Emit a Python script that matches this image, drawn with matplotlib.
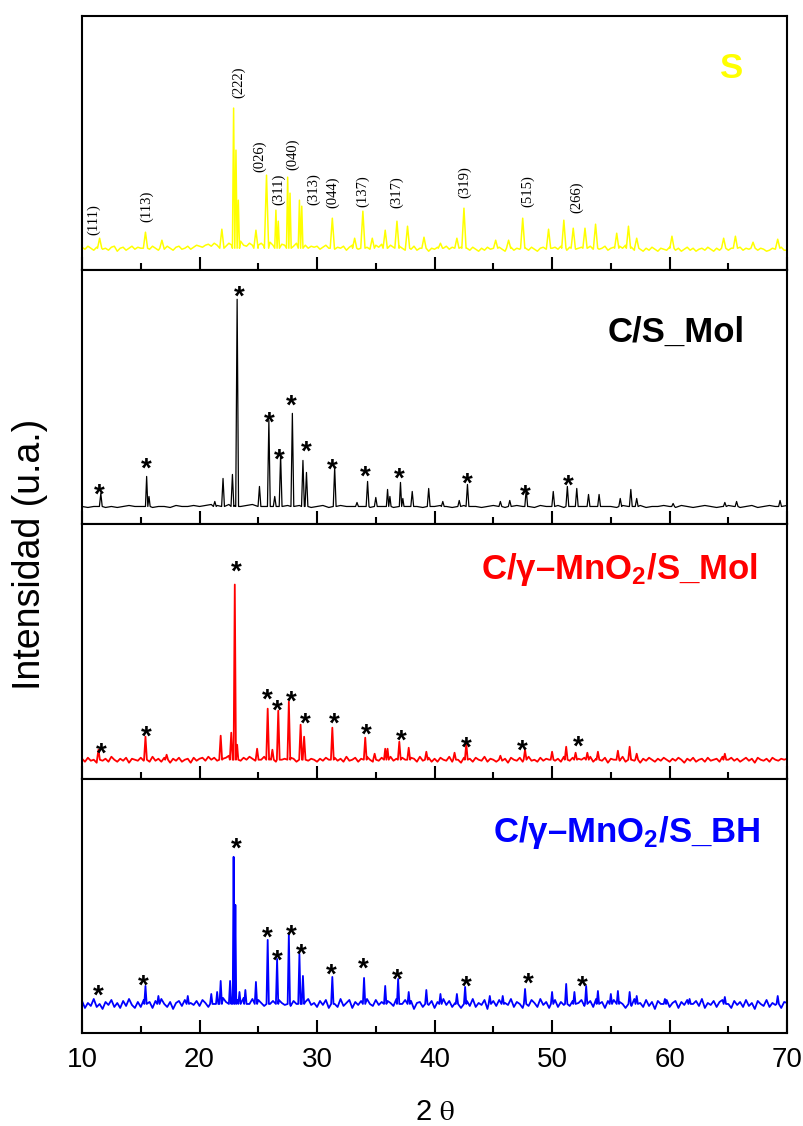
import numpy as np
import matplotlib
matplotlib.use("Agg")
import matplotlib.pyplot as plt
from matplotlib.ticker import MultipleLocator

plt.rcParams['font.family'] = ['Liberation Sans', 'DejaVu Sans']
plt.rcParams['mathtext.fontset'] = 'custom'
plt.rcParams['mathtext.rm'] = 'Liberation Sans:bold'
plt.rcParams['mathtext.bf'] = 'Liberation Sans:bold'
plt.rcParams['mathtext.default'] = 'bf'

# baseline noise read from 10 to 70 deg (intensity above baseline, a.u.)
# S, Mol and BH every 0.25 deg, C/S every 0.5 deg
noise_S = [1, -1, 2, 0, -2, 1, 3, -1, 0, -2, 1, 2, -3, 0, 1, -2, 0, 2, -1, 1,
           0, 2, 3, -1, 2, 0, -2, 1, -1, 2, 0, -2, 1, 2, -1, 0, 2, -1, 1, 3,
           2, 1, 3, 4, 2, 5, 3, 6, 4, 2, 5, 3, 6, 4, 7, 3, 2, 5, 3, 4,
           3, 5, 2, 4, 6, 3, 5, 2, 4, 3, 1, 4, 2, 5, 3, 1, 3, 0, 2, 1,
           2, -1, 1, 3, 0, 2, -1, 1, 0, 2, -2, 1, 3, 0, -1, 2, 0, 1, -1, 2,
           3, 1, 4, 2, 0, 3, 1, -1, 2, 0, -2, 1, -1, 2, -2, 0, 1, -1, -3, 0,
           -1, 1, -2, 0, 2, -1, 1, 0, 3, 1, -1, 0, -2, 1, -1, -3, 0, -2, 1, -1,
           0, -2, 1, -1, -3, 0, 1, -2, 0, -1, 2, 0, -2, 1, -1, -3, 0, 1, -1, 2,
           0, 1, -1, 2, 0, -2, 1, 2, -1, 0, 1, -2, 0, 2, -1, 1, -1, 0, 2, -2,
           0, 1, -1, 2, 0, 3, -1, 1, -2, 0, -1, -3, 0, -2, 1, -1, -3, 0, -1, -2,
           1, -1, -2, 0, -3, -1, 1, -2, 0, -3, -1, 0, -2, 1, -1, -3, 0, -2, 1, -1,
           -2, 0, -1, -3, 1, -2, 0, -1, -3, -1, -2, 0, -1, -3, -2, 0, -1, -2, 1, -2,
           -2]
noise_CS = [0, -1, 0, 1, -1, 0, -1, 0, 1, 0,
            0, 1, -1, 0, 0, -1, 1, 0, 0, 1,
            0, 1, 2, 1, 0, 2, 1, 0, 1, 2,
            1, 0, 1, 2, 0, 1, 0, 1, 0, -1,
            0, 1, -1, 0, 1, 0, 0, 1, 0, -1,
            1, 0, 0, -1, 1, 0, 1, 0, -1, 0,
            0, 1, 0, -1, 0, 1, 0, 0, -1, 0,
            1, 0, -1, 0, 1, 0, 0, -1, 1, 0,
            0, 1, -1, 0, 1, 0, -1, 0, 1, 0,
            0, -1, 1, 0, 0, 1, -1, 0, 0, 1,
            0, -1, 1, 0, -1, 0, 1, 0, -1, 0,
            1, 0, -1, 0, 1, -1, 0, 1, 0, -1,
            1]
noise_Mol = [1, -2, 2, -1, 0, -3, 2, -1, 1, -2, 3, 0, -2, 1, -1, 2, -3, 1, 0, -1,
             2, -1, 0, -2, 3, -1, 1, -2, 2, 0, -3, 1, -1, 2, -2, 0, 1, -3, 2, -1,
             1, 2, -1, 3, 0, 2, -1, 3, 1, 2, 4, 0, 3, 1, -1, 2, 0, 3, 1, -1,
             2, 0, 3, -1, 1, 2, -2, 3, 0, 1, -1, 2, 1, -2, 3, 0, 2, -1, 1, 0,
             -2, 1, -1, 2, 0, -3, 2, -1, 1, -2, 3, -1, 0, 2, -2, 1, -1, 3, 0, -2,
             1, -1, 2, -2, 0, 3, -1, 1, -3, 2, 0, -1, 2, 1, -2, 3, -1, 0, 2, -2,
             1, -2, 2, 0, -1, 3, -2, 1, 0, -3, 2, -1, 1, -2, 2, 0, -1, 3, -2, 1,
             0, -2, 2, -1, 1, -3, 2, 0, -1, 2, -2, 1, 3, -1, 0, -2, 2, -1, 1, 0,
             2, -1, 1, -2, 3, 0, -1, 2, -2, 1, 0, 2, -1, 3, -2, 1, 0, -1, 2, -3,
             1, 0, 2, -1, 3, -2, 1, 0, -1, 2, -3, 1, -1, 2, 0, -2, 1, -1, 2, 0,
             -2, 1, -1, 2, 0, -3, 1, -1, 2, -2, 0, 1, -2, 2, -1, 0, 1, -2, 3, -1,
             0, 2, -1, 1, -2, 0, 2, -1, 1, -3, 2, 0, -1, 1, -2, 2, 0, -1, 1, 0,
             1]
noise_BH = [3, -4, 1, -2, 5, -3, 0, -5, 2, -1, 4, -3, 1, -4, 3, -2, 5, -1, -4, 2,
            -3, 4, -1, 2, -4, 3, -2, 5, 0, -3, 2, -5, 1, 3, -2, 4, -4, 1, -1, 3,
            -2, 4, 1, -3, 5, 0, 3, -1, 6, 2, -2, 5, 1, 4, -1, 6, 3, 0, 5, -2,
            4, 1, -2, 5, 0, 3, -3, 4, 1, -1, 5, -2, 3, 0, 4, -3, 2, 5, -1, 1,
            -3, 3, -1, 4, -4, 2, 0, -3, 5, -2, 1, 4, -4, 2, -1, 3, -3, 5, 0, -2,
            4, -1, 2, -4, 3, 1, -2, 5, -3, 0, 4, -2, 3, -5, 1, 2, -3, 4, -1, 3,
            -4, 2, -2, 5, -1, 3, -3, 1, 4, -4, 0, 3, -2, 5, -3, 1, -1, 4, -5, 2,
            3, -2, 4, -4, 1, -1, 5, -3, 2, 0, -4, 3, -2, 4, 1, -3, 5, -1, 2, -4,
            1, 4, -3, 2, -1, 5, -2, 3, -4, 1, 4, -2, 0, 3, -3, 5, -1, 2, -4, 3,
            -1, 4, -3, 2, 0, -4, 3, -2, 5, -1, 1, -3, 4, -2, 2, -5, 3, 0, -2, 4,
            -3, 1, 3, -4, 2, -1, 4, -3, 0, 3, -2, 5, -4, 1, -1, 3, -3, 2, 4, -2,
            0, -4, 3, -1, 2, -3, 4, -2, 1, -5, 3, 0, -2, 4, -3, 1, -1, 3, -4, 2,
            1]

# peaks: (2theta, height above baseline)
peaks_S = [(11.5, 10), (15.4, 16), (16.8, 8), (21.9, 19), (22.9, 140), (23.1, 98),
           (23.3, 48), (24.8, 18), (25.7, 73), (26.5, 38), (26.7, 27), (27.5, 71),
           (27.7, 55), (28.5, 48), (28.7, 42), (31.3, 30), (33.2, 10), (33.9, 37),
           (34.7, 10), (35.8, 18), (36.8, 27), (37.7, 22), (39.1, 11), (40.5, 5),
           (41.9, 10), (42.5, 40), (45.2, 8), (46.3, 8), (47.5, 30), (49.7, 19),
           (51.0, 28), (51.8, 20), (52.8, 20), (53.7, 24), (55.5, 15), (56.5, 22),
           (57.2, 10), (60.2, 12), (64.6, 10), (65.6, 12), (67.1, 6), (69.2, 9)]
peaks_CS = [(11.6, 13), (15.5, 30), (15.7, 10), (21.3, 5), (22.0, 28), (22.8, 32),
            (23.2, 207), (25.1, 20), (25.9, 86), (26.4, 10), (26.9, 51), (27.9, 93),
            (28.8, 46), (29.1, 34), (31.5, 39), (33.4, 4), (34.3, 25), (35.0, 9),
            (36.0, 17), (36.2, 10), (37.1, 24), (37.3, 8), (38.1, 15), (39.5, 18),
            (40.7, 5), (42.1, 6), (42.8, 22), (45.6, 5), (46.4, 6), (47.8, 17),
            (50.1, 15), (51.3, 20), (52.1, 18), (53.1, 12), (54.0, 12), (55.8, 8),
            (56.7, 17), (57.2, 8), (60.3, 3), (64.7, 4), (65.7, 5), (69.4, 6)]
peaks_Mol = [(11.4, 10), (15.4, 23), (17.2, 5), (21.8, 24), (22.7, 27), (23.0, 175),
             (23.2, 15), (24.9, 11), (25.8, 51), (26.2, 10), (26.7, 49), (27.6, 58),
             (28.6, 35), (28.9, 23), (31.3, 32), (34.1, 22), (34.9, 6), (35.8, 11),
             (36.0, 11), (37.0, 18), (37.8, 12), (39.3, 8), (41.7, 7), (42.7, 16),
             (45.6, 4), (47.7, 10), (50.0, 8), (51.2, 13), (52.0, 7), (53.0, 7),
             (53.9, 8), (55.6, 9), (56.6, 13), (57.2, 6), (64.7, 6)]
peaks_BH = [(15.4, 18), (16.5, 8), (19.0, 8), (21.0, 10), (21.5, 12), (21.8, 23),
            (22.6, 23), (22.9, 147), (23.05, 99), (23.4, 12), (23.9, 14), (24.8, 22),
            (25.8, 64), (26.6, 45), (27.6, 70), (28.5, 50), (28.8, 28), (31.3, 27),
            (34.0, 26), (35.8, 18), (36.9, 25), (37.8, 12), (39.3, 14), (40.5, 10),
            (41.9, 10), (42.6, 17), (44.7, 8), (45.8, 8), (47.7, 15), (50.0, 12),
            (51.2, 20), (51.9, 12), (52.9, 18), (53.9, 13), (55.0, 10), (55.6, 13),
            (56.6, 12), (57.2, 8), (59.6, 5), (61.7, 5), (64.7, 7), (69.2, 8)]

# asterisks (2theta, height)
stars_CS = [(11.5, 20), (15.5, 46), (23.4, 217), (25.9, 92), (26.8, 55), (27.8, 109),
            (29.1, 63), (31.3, 45), (34.1, 38), (37.0, 36), (42.8, 31), (47.7, 19), (51.4, 29)]
stars_Mol = [(11.6, 14), (15.5, 31), (23.1, 196), (25.8, 68), (26.6, 57), (27.8, 66),
             (29.0, 44), (31.5, 44), (34.2, 33), (37.2, 27), (42.7, 20), (47.5, 17), (52.2, 21)]
stars_BH = [(11.4, 16), (15.2, 26), (23.1, 163), (25.8, 74), (26.6, 51), (27.8, 76),
            (28.7, 57), (31.2, 37), (33.9, 43), (36.8, 32), (42.7, 25), (48.0, 28), (52.6, 25)]

# Miller indices for sulfur: label, 2theta, height of label bottom
hkl_labels = ["(111)", "(113)", "(222)", "(026)", "(311)", "(040)", "(313)",
              "(044)", "(137)", "(317)", "(319)", "(515)", "(266)"]
hkl_pos = [10.95, 15.5, 23.3, 25.1, 26.7, 27.9, 29.7, 31.3, 33.9, 36.8, 42.6, 47.9, 52.1]
hkl_h = [13, 26, 150, 76, 43, 78, 43, 40, 41, 40, 50, 41, 35]

names = ["S", "C/S_Mol", "C/γ–MnO$_2$/S_Mol", "C/γ–MnO$_2$/S_BH"]
colors = ["#ffff00", "black", "#ff0000", "#0000ff"]


def build_trace(peaks, noise, step, hw):
    """Turn peak list + baseline samples into line vertices (spikes on a noisy baseline)."""
    px = np.array([p[0] for p in peaks], dtype=float)
    ph = np.array([p[1] for p in peaks], dtype=float)
    gaps = np.diff(px) / 2
    w = np.minimum(hw, np.minimum(np.r_[hw, gaps], np.r_[gaps, hw]))
    nx = 10 + step * np.arange(len(noise))
    ny = np.array(noise, dtype=float)
    inside = np.zeros(len(nx), dtype=bool)
    for x0, w0 in zip(px, w):
        inside |= (nx >= x0 - w0) & (nx <= x0 + w0)
    xs = np.r_[nx[~inside], px - w, px, px + w]
    ys = np.r_[ny[~inside], np.zeros(len(px)), ph, np.zeros(len(px))]
    order = np.argsort(xs, kind="stable")
    return xs[order], ys[order]


fig, axes = plt.subplots(4, 1, sharex=True, figsize=(8.04, 11.26), dpi=100)
plt.subplots_adjust(left=0.102, right=0.979, bottom=0.0826, top=0.9858, hspace=0)

all_peaks = [peaks_S, peaks_CS, peaks_Mol, peaks_BH]
all_noise = [noise_S, noise_CS, noise_Mol, noise_BH]
all_stars = [None, stars_CS, stars_Mol, stars_BH]
steps = [0.25, 0.5, 0.25, 0.25]
half_w = [0.18, 0.12, 0.12, 0.1]
line_w = [1.1, 0.9, 1.3, 1.3]
ylims = [(-22, 232), (-18, 236), (-19, 235), (-29, 225)]
label_xy = [(0.938, 0.795), (0.940, 0.757), (0.958, 0.822), (0.962, 0.788)]

for i, ax in enumerate(axes):
    x, y = build_trace(all_peaks[i], all_noise[i], steps[i], half_w[i])
    ax.plot(x, y, color=colors[i], lw=line_w[i])
    ax.set_xlim(10, 70)
    ax.set_ylim(*ylims[i])
    ax.set_yticks([])
    ax.xaxis.set_major_locator(MultipleLocator(10))
    ax.xaxis.set_minor_locator(MultipleLocator(5))
    ax.tick_params(axis='x', which='both', direction='in', top=False, bottom=True,
                   width=1.5, labelsize=20, pad=10)
    ax.tick_params(axis='x', which='major', length=9.5)
    ax.tick_params(axis='x', which='minor', length=5)
    for sp in ax.spines.values():
        sp.set_linewidth(1.5)

    ax.text(label_xy[i][0], label_xy[i][1], names[i], transform=ax.transAxes,
            ha='right', va='center', fontsize=25, fontweight='bold', color=colors[i])

    if all_stars[i] is not None:
        for sx, sh in all_stars[i]:
            ax.annotate('*', (sx, sh), xytext=(0, -0.57 * 20), textcoords='offset points',
                        ha='center', va='baseline', fontsize=20, fontweight='bold')

# hkl indices on the sulfur pattern
for lab, hx, hy in zip(hkl_labels, hkl_pos, hkl_h):
    axes[0].text(hx, hy, lab, rotation=90, ha='center', va='bottom',
                 fontsize=10.5, family='Liberation Serif')

for ax in axes[:-1]:
    ax.tick_params(axis='x', labelbottom=False)

fig.text(30 / 804, 1 - 554 / 1126, "Intensidad (u.a.)", rotation=90,
         ha='center', va='center', fontsize=27)
fig.text(0.5405, 1 - 1112 / 1126, r"2 $\mathrm{\theta}$", ha='center', va='center',
         fontsize=21, math_fontfamily='stix')

plt.savefig("out.png", dpi=100)
plt.close()
